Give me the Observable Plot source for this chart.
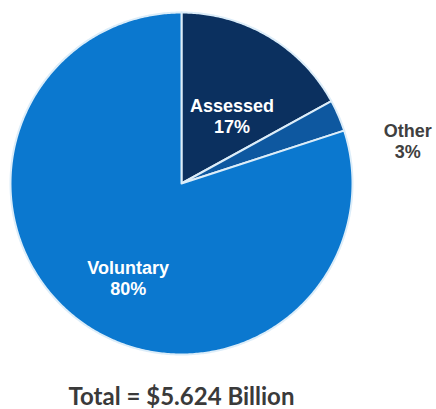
<!DOCTYPE html>
<html><head><meta charset="utf-8">
<script src="https://cdn.jsdelivr.net/npm/d3@7"></script>
<script src="https://cdn.jsdelivr.net/npm/@observablehq/plot@0.6"></script>
<style>
body{margin:0;background:#fff;width:436px;height:409px;position:relative;overflow:hidden;}
#total{position:absolute;left:0;top:384px;width:363px;text-align:center;font-family:Lato,"Liberation Sans",sans-serif;font-weight:bold;font-size:24px;line-height:24px;color:#3a3a3a;white-space:nowrap;}
</style>
</head><body>
<div id="chart"></div>
<div id="total"></div>
<script>
const categories = ["Assessed", "Other", "Voluntary"];
const shares = [17, 3, 80];
const colors = ["#0b305f", "#0e58a0", "#0b78cf"];
const totalLabel = "Total = $5.624 Billion";

const rows = categories.map((c, i) => ({category: c, share: shares[i], label: `${c}\n${shares[i]}%`}));
const arcs = d3.pie().sort(null).value(d => d.share)(rows);

// wedge outlines derived from the pie layout angles
const wedges = arcs.flatMap(a => {
  const c = a.data.category;
  const pts = [{category: c, x: 0, y: 0}];
  const n = Math.max(2, Math.ceil((a.endAngle - a.startAngle) / 0.01));
  for (let k = 0; k <= n; k++) {
    const t = a.startAngle + (a.endAngle - a.startAngle) * k / n;
    pts.push({category: c, x: Math.sin(t), y: Math.cos(t)});
  }
  pts.push({category: c, x: 0, y: 0});
  return pts;
});

function labelPos(a, r) {
  const t = (a.startAngle + a.endAngle) / 2;
  return {...a.data, x: r * Math.sin(t), y: r * Math.cos(t)};
}
const byCat = Object.fromEntries(arcs.map(a => [a.data.category, a]));

const font = {fontFamily: "Liberation Sans, Arial, sans-serif", fontWeight: "bold", fontSize: 18, lineHeight: 1.17};

const chart = Plot.plot({
  width: 436,
  height: 370,
  margin: 0,
  x: {domain: [-1, 1], range: [10, 352], axis: null},
  y: {domain: [-1, 1], range: [354, 12], axis: null},
  color: {domain: categories, range: colors},
  marks: [
    Plot.line(wedges, {x: "x", y: "y", z: "category", fill: "category", stroke: "#dcedf9", strokeWidth: 2, strokeLinejoin: "round", curve: "linear"}),
    Plot.text([labelPos(byCat["Assessed"], 0.5)], {x: "x", y: "y", text: "label", fill: "white", dx: 7, dy: 6, ...font}),
    Plot.text([labelPos(byCat["Voluntary"], 0.6)], {x: "x", y: "y", text: "label", fill: "white", dx: 7, dy: 11, ...font}),
    Plot.text([labelPos(byCat["Other"], 1.25)], {x: "x", y: "y", text: "label", fill: "#404040", dx: 30, dy: 42, ...font})
  ]
});
document.getElementById("chart").append(chart);
document.getElementById("total").textContent = totalLabel;
</script>
</body></html>
